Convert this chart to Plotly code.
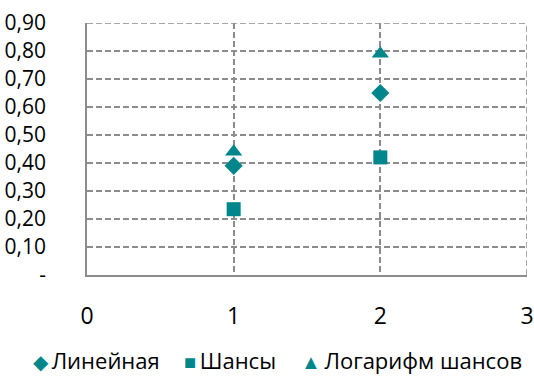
import plotly.graph_objects as go

# Two observation points, three model variants
x_vals = [1, 2]
linear = [0.39, 0.65]
odds = [0.235, 0.42]
log_odds = [0.44, 0.79]

series_names = ["Линейная", "Шансы", "Логарифм шансов"]
legend_glyphs = ["◆", "■", "▲"]
y_tick_vals = [0, 0.1, 0.2, 0.3, 0.4, 0.5, 0.6, 0.7, 0.8, 0.9]
y_tick_text = ["-", "0,10", "0,20", "0,30", "0,40", "0,50", "0,60", "0,70", "0,80", "0,90"]
x_tick_vals = [0, 1, 2, 3]

teal = "#00868b"
grid = "#8c8c8c"
font_family = "'Open Sans', Lato, sans-serif"
grid_dash = "6px,3px"

W, H = 534, 376
M_L, M_R, M_T, M_B = 87, 7, 23, 101
plot_w = W - M_L - M_R
plot_h = H - M_T - M_B

fig = go.Figure()
symbols = ["diamond", "square", "triangle-up"]
sizes = [14, 14, 15]
for name, ys, sym, sz in zip(series_names, [linear, odds, log_odds], symbols, sizes):
    fig.add_trace(go.Scatter(x=x_vals, y=ys, mode="markers", name=name,
                             marker=dict(symbol=sym, size=sz, color=teal)))

fig.update_layout(
    width=W, height=H,
    margin=dict(l=M_L, r=M_R, t=M_T, b=M_B),
    paper_bgcolor="white", plot_bgcolor="white",
    font=dict(family=font_family, size=21, color="#000000"),
    showlegend=False,
)
fig.update_xaxes(
    range=[0, 3], tickvals=x_tick_vals, showgrid=True, gridcolor=grid,
    griddash=grid_dash, gridwidth=1.5, zeroline=False, automargin=False,
    showline=True, linecolor=grid, linewidth=1.5,
    ticklabelstandoff=20, tickfont=dict(size=23),
)
fig.update_yaxes(
    range=[0, 0.9], tickvals=y_tick_vals, ticktext=y_tick_text,
    showgrid=True, gridcolor=grid, griddash=grid_dash, gridwidth=1.5,
    zeroline=False, automargin=False, showline=True, linecolor=grid, linewidth=1.5,
    ticklabelstandoff=35, tickfont=dict(size=21),
)
# Dashed frame lines at the top and right edges of the plot area
fig.add_shape(type="line", xref="paper", yref="y", x0=0, x1=1, y0=0.9, y1=0.9,
              line=dict(color=grid, width=1.5, dash=grid_dash))
fig.add_shape(type="line", xref="x", yref="paper", x0=3, x1=3, y0=0, y1=1,
              line=dict(color=grid, width=1.5, dash=grid_dash))

# Legend row below the chart: coloured marker glyph followed by the series name
legend_left_px = [32, 183, 300]
legend_mid_px = 360
for px, g, n in zip(legend_left_px, legend_glyphs, series_names):
    fig.add_annotation(
        text=f"<span style='color:{teal};font-size:20px'>{g}</span>&#8201;{n}",
        xref="paper", yref="paper",
        x=(px - M_L) / plot_w, xanchor="left",
        y=(H - M_B - legend_mid_px) / plot_h, yanchor="middle",
        borderpad=0, showarrow=False, font=dict(size=22, family=font_family),
    )

fig.write_html("out.html")
